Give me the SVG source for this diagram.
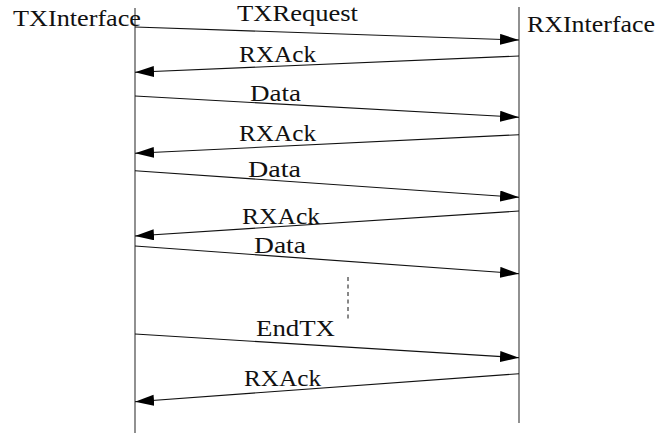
<svg xmlns="http://www.w3.org/2000/svg" width="657" height="433" viewBox="0 0 657 433">
<style>
.t{font-family:'Liberation Serif',serif;font-size:24px;fill:#111}
.life{stroke:#555;stroke-width:1.3;fill:none}
.msg{stroke:#111;stroke-width:1.1;fill:none;marker-end:url(#ah)}
.dash{stroke:#111;stroke-width:1;stroke-dasharray:4 3.5}
</style>
<defs>
<marker id="ah" markerUnits="userSpaceOnUse" markerWidth="20" markerHeight="12" refX="19" refY="5.5" orient="auto" viewBox="0 0 20 12">
<path d="M0,0 L19,5.5 L0,11 z" fill="#000"/>
</marker>
</defs>
<rect width="657" height="433" fill="#fff"/>
<g id="TXInterface">
<line class="life" x1="135" y1="8" x2="135" y2="433"/>
<text class="t" font-family="Liberation Serif, serif" x="13" y="26" textLength="128" lengthAdjust="spacingAndGlyphs">TXInterface</text>
</g>
<g id="RXInterface">
<line class="life" x1="519" y1="7" x2="519" y2="423"/>
<text class="t" font-family="Liberation Serif, serif" x="527" y="32" textLength="128" lengthAdjust="spacingAndGlyphs">RXInterface</text>
</g>
<g id="connectors">
<line class="msg" x1="135" y1="27" x2="519" y2="40"/>
<line class="msg" x1="519" y1="56" x2="135" y2="72.3"/>
<line class="msg" x1="135" y1="96" x2="519" y2="117.3"/>
<line class="msg" x1="519" y1="134.7" x2="135" y2="153.3"/>
<line class="msg" x1="135" y1="170.7" x2="519" y2="197.3"/>
<line class="msg" x1="519" y1="211" x2="135" y2="236"/>
<line class="msg" x1="135" y1="246" x2="519" y2="273.7"/>
<line class="dash" x1="348" y1="277" x2="348" y2="321"/>
<line class="msg" x1="135" y1="334" x2="519" y2="357.7"/>
<line class="msg" x1="519" y1="373.7" x2="135" y2="401.7"/>
</g>
<g id="labels" font-family="Liberation Serif, serif">
<text class="t" x="237" y="21" textLength="121" lengthAdjust="spacingAndGlyphs">TXRequest</text>
<text class="t" x="239" y="62" textLength="77" lengthAdjust="spacingAndGlyphs">RXAck</text>
<text class="t" x="250" y="101" textLength="51" lengthAdjust="spacingAndGlyphs">Data</text>
<text class="t" x="239" y="141" textLength="77" lengthAdjust="spacingAndGlyphs">RXAck</text>
<text class="t" x="248" y="177" textLength="53" lengthAdjust="spacingAndGlyphs">Data</text>
<text class="t" x="242" y="224" textLength="78" lengthAdjust="spacingAndGlyphs">RXAck</text>
<text class="t" x="254" y="253" textLength="52" lengthAdjust="spacingAndGlyphs">Data</text>
<text class="t" x="256" y="336" textLength="79" lengthAdjust="spacingAndGlyphs">EndTX</text>
<text class="t" x="244" y="386" textLength="77" lengthAdjust="spacingAndGlyphs">RXAck</text>
</g>
</svg>
